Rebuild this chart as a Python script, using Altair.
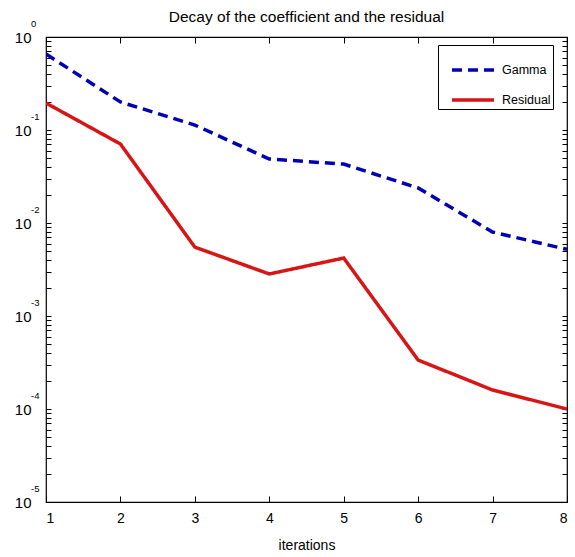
import altair as alt
import pandas as pd

# ---- data ----
iterations = [1, 2, 3, 4, 5, 6, 7, 8]
gamma = [0.656, 0.20, 0.113, 0.0488, 0.043, 0.0238, 0.0080, 0.0052]
residual = [0.195, 0.0707, 0.0055, 0.00283, 0.0042, 0.000336, 0.00016, 0.0001]
series_names = ["Gamma", "Residual"]
series_colors = ["#0000b4", "#d81515"]
series_dash = [[10, 6], [1, 0]]
decade_exponents = [0, -1, -2, -3, -4, -5]
x_tick_values = [1, 2, 3, 4, 5, 6, 7, 8]
minor_multipliers = [1, 2, 3, 4, 5, 6, 7, 8, 9]

FONT = "Liberation Sans, Arial, Helvetica, sans-serif"
W, H = 521, 465

rows = []
for name, vals in zip(series_names, [gamma, residual]):
    for it, v in zip(iterations, vals):
        rows.append({"iteration": it, "value": v, "series": name})
lines_df = pd.DataFrame(rows)

decades = [10.0 ** e for e in decade_exponents]
ytick_vals = sorted(set([m * 10.0 ** e for e in decade_exponents[1:] for m in minor_multipliers] + [1.0]))
ytick_df = pd.DataFrame({"value": ytick_vals})
xtick_df = pd.DataFrame({"iteration": x_tick_values})
exp_df = pd.DataFrame({"value": decades, "label": [str(e) for e in decade_exponents]})

xscale = alt.Scale(domain=[1, 8], nice=False, zero=False)
yscale = alt.Scale(type="log", domain=[1e-5, 1], nice=False)

decade_expr = ("abs(log(datum.value)/LN10 - round(log(datum.value)/LN10)) < 1e-6 ? '10' : ''")

xaxis = alt.Axis(orient="bottom", values=x_tick_values, format="d", ticks=True, tickSize=6,
                 tickColor="black", tickWidth=1, offset=-6, domain=False, grid=False,
                 labelFontSize=14, labelPadding=9, labelFont=FONT, labelColor="black",
                 title="iterations", titleFontSize=14, titleFontWeight="normal",
                 titleFont=FONT, titleColor="black", titlePadding=13)
yaxis = alt.Axis(orient="left", values=ytick_vals, labelExpr=decade_expr, labelOverlap=False,
                 ticks=True, tickSize=5, tickColor="black", tickWidth=1, offset=-5,
                 domain=False, grid=False,
                 labelFontSize=15, labelPadding=15, labelFont=FONT, labelColor="black",
                 title=None)
yaxis_right = alt.Axis(orient="right", values=ytick_vals, labels=False, ticks=True, tickSize=5,
                       tickColor="black", tickWidth=1, offset=-5, domain=False, grid=False,
                       title=None)
xaxis_top = alt.Axis(orient="top", values=x_tick_values, labels=False, ticks=True, tickSize=6,
                     tickColor="black", tickWidth=1, offset=-6, domain=False, grid=False,
                     title=None)

lines = alt.Chart(lines_df).mark_line(strokeWidth=3.5, clip=True).encode(
    x=alt.X("iteration:Q", scale=xscale, axis=xaxis),
    y=alt.Y("value:Q", scale=yscale, axis=yaxis),
    color=alt.Color("series:N", scale=alt.Scale(domain=series_names, range=series_colors),
                    legend=alt.Legend(title=None)),
    strokeDash=alt.StrokeDash("series:N", scale=alt.Scale(domain=series_names, range=series_dash),
                              legend=alt.Legend(title=None)),
)

right_axis_layer = alt.Chart(ytick_df).mark_point(opacity=0).encode(
    y=alt.Y("value:Q", scale=yscale, axis=yaxis_right), x=alt.value(W))
top_axis_layer = alt.Chart(xtick_df).mark_point(opacity=0).encode(
    x=alt.X("iteration:Q", scale=xscale, axis=xaxis_top), y=alt.value(0))

exponents = alt.Chart(exp_df).mark_text(align="left", baseline="alphabetic", dy=-10,
                                        fontSize=9.5, font=FONT, color="black").encode(
    x=alt.value(-15), y=alt.Y("value:Q", scale=yscale, axis=None), text="label:N")

chart = alt.layer(lines, right_axis_layer, top_axis_layer, exponents).resolve_axis(
    x="independent", y="independent"
).properties(
    width=W, height=H,
    title=alt.TitleParams("Decay of the coefficient and the residual", fontSize=15.5,
                          fontWeight="normal", font=FONT, color="black", offset=-6),
    autosize=alt.AutoSizeParams(type="none"),
    padding={"left": 46, "top": 37, "right": 8, "bottom": 55},
    background="white",
).configure_view(stroke="black", strokeWidth=1.2).configure_legend(
    orient="none", legendX=392, legendY=8,
    strokeColor="black", fillColor="white", padding=2, rowPadding=0,
    symbolType="stroke", symbolSize=1764, symbolStrokeWidth=3.5, symbolOffset=10,
    labelFontSize=12.5, labelFont=FONT, labelColor="black", labelOffset=6,
)

chart.save("out.html", embed_options={"renderer": "svg", "actions": False})
